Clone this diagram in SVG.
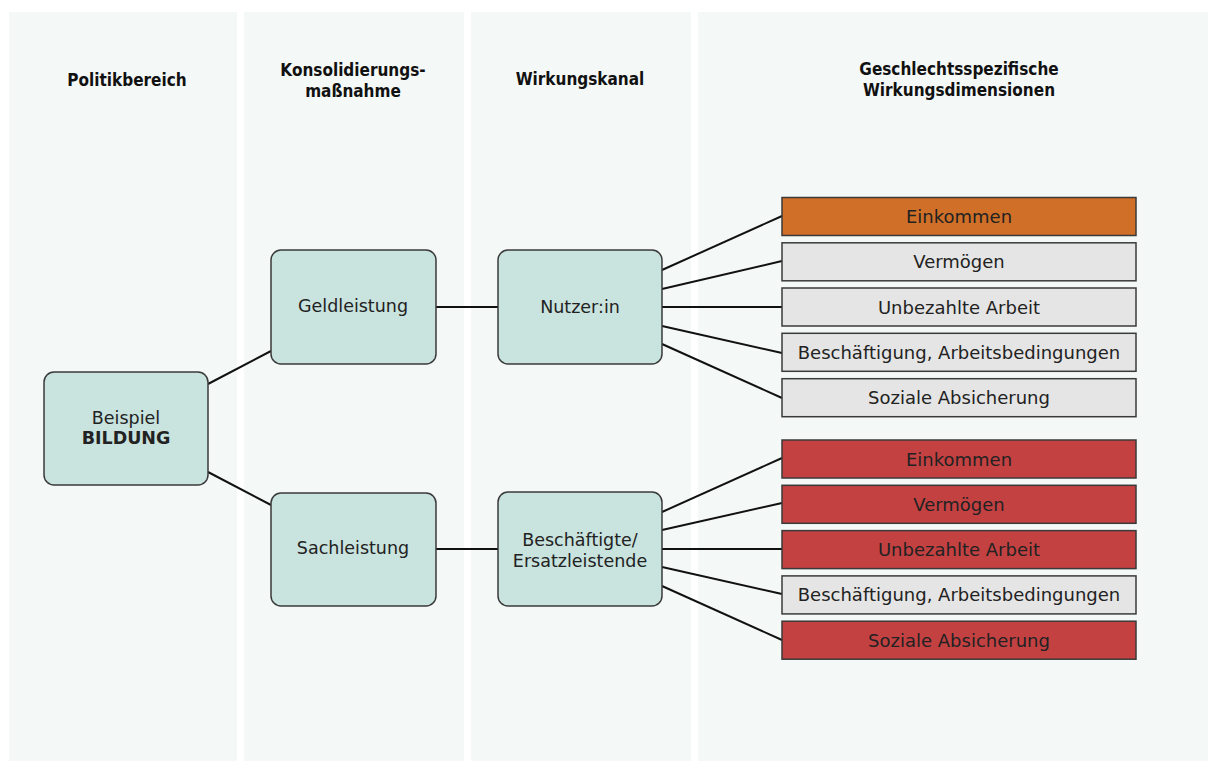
<svg xmlns="http://www.w3.org/2000/svg" width="1208" height="761" viewBox="0 0 1208 761">
<style>
.panel{fill:#f4f8f7}
.hd{font-family:"DejaVu Sans Condensed","Liberation Sans",sans-serif;font-weight:bold;font-size:17px;fill:#111;text-anchor:middle}
.node rect{fill:#c9e3de;stroke:#3a3a3a;stroke-width:1.5}
.lbl{font-family:"DejaVu Sans","Liberation Sans",sans-serif;font-size:17.5px;fill:#222;text-anchor:middle}
.dim .lbl{font-size:18px}
.dim rect{stroke:#3a3a3a;stroke-width:1.5}
.gray{fill:#e5e5e5}
.orange{fill:#d06f28}
.red{fill:#c44142}
.conn line{stroke:#111;stroke-width:2}
</style>
<rect width="1208" height="761" fill="#ffffff"/>
<g id="panels">
<rect class="panel" x="9" y="12" width="228" height="749"/>
<rect class="panel" x="244" y="12" width="220" height="749"/>
<rect class="panel" x="471" y="12" width="220" height="749"/>
<rect class="panel" x="698" y="12" width="510" height="749"/>
</g>
<g id="headers">
<text class="hd" x="127" y="86">Politikbereich</text>
<text class="hd" x="353" y="76">Konsolidierungs-</text>
<text class="hd" x="353" y="97">maßnahme</text>
<text class="hd" x="580" y="85">Wirkungskanal</text>
<text class="hd" x="959" y="75">Geschlechtsspezifische</text>
<text class="hd" x="959" y="96">Wirkungsdimensionen</text>
</g>
<g id="connectors" class="conn">
<line x1="208" y1="384" x2="271" y2="351"/>
<line x1="208" y1="472" x2="271" y2="505"/>
<line x1="436" y1="307" x2="498" y2="307"/>
<line x1="436" y1="549" x2="498" y2="549"/>
<line x1="662" y1="270" x2="782" y2="216"/>
<line x1="662" y1="289" x2="782" y2="261"/>
<line x1="662" y1="307" x2="782" y2="307"/>
<line x1="662" y1="326" x2="782" y2="353"/>
<line x1="662" y1="344" x2="782" y2="398"/>
<line x1="662" y1="512" x2="782" y2="458"/>
<line x1="662" y1="530" x2="782" y2="503"/>
<line x1="662" y1="549" x2="782" y2="549"/>
<line x1="662" y1="567" x2="782" y2="594"/>
<line x1="662" y1="586" x2="782" y2="640"/>
</g>
<g id="bildung" class="node">
<rect x="44" y="372" width="164" height="113" rx="10"/>
<text class="lbl" x="126" y="424">Beispiel</text>
<text class="lbl" x="126" y="444" font-weight="bold">BILDUNG</text>
</g>
<g id="geldleistung" class="node">
<rect x="271" y="250" width="165" height="114" rx="10"/>
<text class="lbl" x="353" y="312">Geldleistung</text>
</g>
<g id="sachleistung" class="node">
<rect x="271" y="493" width="165" height="113" rx="10"/>
<text class="lbl" x="353" y="554">Sachleistung</text>
</g>
<g id="nutzerin" class="node">
<rect x="498" y="250" width="164" height="114" rx="10"/>
<text class="lbl" x="580" y="313">Nutzer:in</text>
</g>
<g id="beschaeftigte" class="node">
<rect x="498" y="492" width="164" height="114" rx="10"/>
<text class="lbl" x="580" y="546">Beschäftigte/</text>
<text class="lbl" x="580" y="567">Ersatzleistende</text>
</g>
<g id="dim-a1" class="dim"><rect class="orange" x="782" y="197.5" width="354" height="38"/><text class="lbl" x="959" y="223">Einkommen</text></g>
<g id="dim-a2" class="dim"><rect class="gray" x="782" y="242.8" width="354" height="38"/><text class="lbl" x="959" y="268">Vermögen</text></g>
<g id="dim-a3" class="dim"><rect class="gray" x="782" y="288" width="354" height="38"/><text class="lbl" x="959" y="313.5">Unbezahlte Arbeit</text></g>
<g id="dim-a4" class="dim"><rect class="gray" x="782" y="333.3" width="354" height="38"/><text class="lbl" x="959" y="358.5">Beschäftigung, Arbeitsbedingungen</text></g>
<g id="dim-a5" class="dim"><rect class="gray" x="782" y="378.7" width="354" height="38"/><text class="lbl" x="959" y="404">Soziale Absicherung</text></g>
<g id="dim-b1" class="dim"><rect class="red" x="782" y="440" width="354" height="38"/><text class="lbl" x="959" y="465.5">Einkommen</text></g>
<g id="dim-b2" class="dim"><rect class="red" x="782" y="485.3" width="354" height="38"/><text class="lbl" x="959" y="510.5">Vermögen</text></g>
<g id="dim-b3" class="dim"><rect class="red" x="782" y="530.6" width="354" height="38"/><text class="lbl" x="959" y="556">Unbezahlte Arbeit</text></g>
<g id="dim-b4" class="dim"><rect class="gray" x="782" y="575.9" width="354" height="38"/><text class="lbl" x="959" y="601">Beschäftigung, Arbeitsbedingungen</text></g>
<g id="dim-b5" class="dim"><rect class="red" x="782" y="621.2" width="354" height="38"/><text class="lbl" x="959" y="646.5">Soziale Absicherung</text></g>
</svg>
